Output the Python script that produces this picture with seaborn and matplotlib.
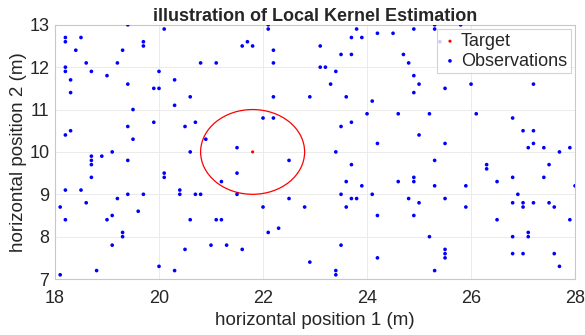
import numpy as np
import pandas as pd
import matplotlib
matplotlib.use("Agg")
import matplotlib.pyplot as plt
from matplotlib.patches import Circle
import seaborn as sns

# ---- data ----
obs_x = [
    18.2, 18.2, 18.5, 18.4, 19.4, 20.1, 19.7, 19.7, 19.3, 18.6, 19.2, 18.2, 18.2, 18.7, 19.0, 18.3, 20.0, 19.4,
    19.9, 20.0, 20.3, 18.3, 20.6, 20.3, 19.5, 20.8, 21.1, 19.4, 19.9, 20.5, 20.7, 18.3, 18.2,
    19.5, 19.1, 18.7, 18.9, 18.7, 19.4, 18.7, 18.7, 18.2, 18.5, 18.6, 19.2, 19.4, 19.7, 18.1, 19.6, 18.2, 19.0,
    19.1, 19.3, 19.3, 19.1, 20.1, 20.1, 20.4, 20.4, 20.7, 20.8, 20.6, 20.9, 21.2, 20.6, 21.1, 21.2, 20.5, 21.0,
    18.1, 18.8, 20.0, 20.3,
    22.1, 22.1, 21.6, 21.7, 21.8, 22.2, 22.2, 23.1, 23.1, 23.2, 23.4, 23.3, 23.5, 23.7, 23.7, 23.8, 23.9, 24.2,
    24.5, 24.7, 22.2, 22.9, 23.6, 24.1, 24.0, 24.6, 22.0, 22.2, 23.5, 23.7,
    21.5, 22.5, 21.5, 21.5, 22.5, 22.0, 22.8, 22.3, 22.1, 21.3, 21.6, 23.4, 24.2, 23.7, 23.6, 23.9, 24.6, 23.5,
    24.1, 23.7, 23.8, 23.6, 24.2, 23.5,
    22.9, 23.4, 23.4, 24.2,
    24.9, 25.3, 25.3, 25.8, 25.4, 24.8, 24.9, 25.0, 24.9, 25.5, 26.0, 27.2, 25.2, 26.1, 26.8, 27.0, 27.2, 25.0,
    25.5, 27.2, 27.1, 27.4, 27.9, 27.7, 25.3, 26.3, 26.3, 27.5, 24.9, 24.9, 25.3, 25.9, 26.5, 26.8, 27.4, 28.0,
    26.9, 24.8, 25.0, 25.5, 25.9, 26.8, 27.0, 27.0, 27.2, 27.5, 27.6, 24.9, 26.5, 27.9, 27.1, 27.1, 25.2, 26.8,
    25.5, 25.5, 26.8, 27.0, 27.6,
    25.5, 25.3, 27.7,
]
obs_y = [
    12.7, 12.6, 12.7, 12.4, 13.0, 12.9, 12.6, 12.5, 12.4, 12.1, 12.1, 12.0, 11.9, 11.9, 11.8, 11.7, 11.9, 11.6,
    11.5, 11.5, 11.7, 11.4, 11.3, 11.1, 11.0, 12.1, 12.1, 10.6, 10.7, 10.6, 10.7, 10.5, 10.4,
    10.3, 10.0, 9.9, 9.9, 9.8, 9.8, 9.7, 9.4, 9.1, 9.1, 8.8, 8.9, 9.0, 9.0, 8.7, 8.6, 8.4, 8.4,
    8.5, 8.1, 8.0, 7.8, 9.5, 9.4, 9.1, 9.0, 9.0, 9.0, 10.0, 10.3, 9.3, 8.4, 8.4, 8.4, 7.7, 7.8,
    7.1, 7.2, 7.3, 7.2,
    13.0, 12.9, 12.5, 12.6, 12.5, 12.4, 12.1, 12.5, 12.0, 12.0, 11.9, 11.6, 12.3, 12.3, 12.7, 12.9, 12.7, 12.8,
    12.8, 12.3, 11.3, 11.3, 11.3, 11.2, 10.9, 10.9, 10.8, 10.8, 10.6, 10.7,
    10.1, 9.8, 9.5, 9.0, 8.9, 8.7, 8.7, 8.2, 8.1, 7.8, 7.7, 10.0, 10.2, 9.7, 9.3, 9.2, 9.3, 9.0,
    9.0, 8.9, 8.9, 8.7, 8.5, 7.8,
    7.4, 7.2, 7.1, 7.5,
    12.9, 13.0, 12.9, 13.0, 12.6, 12.1, 11.8, 11.6, 11.4, 11.5, 11.6, 11.6, 10.9, 10.9, 10.8, 10.5, 10.5, 10.4,
    10.2, 10.2, 10.1, 10.1, 10.1, 10.0, 9.8, 9.7, 9.6, 9.7, 9.4, 9.3, 9.2, 9.2, 9.3, 9.4, 9.4, 9.2,
    9.0, 8.9, 8.8, 8.9, 8.7, 8.8, 8.8, 8.7, 8.8, 8.8, 8.7, 8.5, 8.4, 8.4, 8.1, 8.0, 8.0, 8.0,
    7.7, 7.6, 7.6, 7.6, 7.6,
    7.5, 7.2, 7.3,
]
target_x = [21.8]
target_y = [10.0]
kernel_radius = 1.0

title = "illustration of Local Kernel Estimation"
xlabel = "horizontal position 1 (m)"
ylabel = "horizontal position 2 (m)"
xticks = [18, 20, 22, 24, 26, 28]
yticks = [7, 8, 9, 10, 11, 12, 13]

obs = pd.DataFrame({"x": obs_x, "y": obs_y})
tgt = pd.DataFrame({"x": target_x, "y": target_y})

sns.set_theme(style="whitegrid")
plt.rcParams["font.family"] = ["Liberation Sans", "DejaVu Sans"]

fig = plt.figure(figsize=(5.85, 3.35), dpi=100)
ax = fig.add_axes([0.094, 0.167, 0.889, 0.759])

sns.scatterplot(data=tgt, x="x", y="y", ax=ax, color=(1, 0, 0), s=5,
                edgecolor="none", label="Target", zorder=3)
sns.scatterplot(data=obs, x="x", y="y", ax=ax, color=(0, 0, 1), s=7,
                edgecolor="none", label="Observations", zorder=3)

circ = Circle((target_x[0], target_y[0]), kernel_radius, fill=False,
              edgecolor=(1, 0, 0), linewidth=0.9, zorder=2)
ax.add_patch(circ)

ax.set_xlim(18, 28)
ax.set_ylim(7, 13)
ax.set_xticks(xticks)
ax.set_yticks(yticks)
ax.tick_params(axis="both", labelsize=13, labelcolor="#262626", color="#c0c0c0",
               direction="in", length=3, width=0.8)
ax.tick_params(axis="x", pad=8)
ax.tick_params(axis="y", pad=4)
ax.grid(True, color="#ebebeb", linewidth=0.7)
for s in ax.spines.values():
    s.set_visible(True)
    s.set_color("#c8c8c8")
    s.set_linewidth(0.8)
ax.set_facecolor("white")

ax.set_xlabel(xlabel, fontsize=13.5, color="#262626", labelpad=3.5)
ax.set_ylabel(ylabel, fontsize=13.5, color="#262626", labelpad=2)
ax.set_title(title, fontsize=13, fontweight="bold", pad=3)

leg = ax.legend(loc="upper right", fontsize=13, frameon=True, fancybox=False,
                borderpad=0.2, handletextpad=0.1, labelspacing=0.15,
                handlelength=1.0, markerscale=1.0, borderaxespad=0.25)
leg.get_frame().set_edgecolor("#c8c8c8")
leg.get_frame().set_linewidth(0.8)

fig.savefig("out.png", dpi=100)
